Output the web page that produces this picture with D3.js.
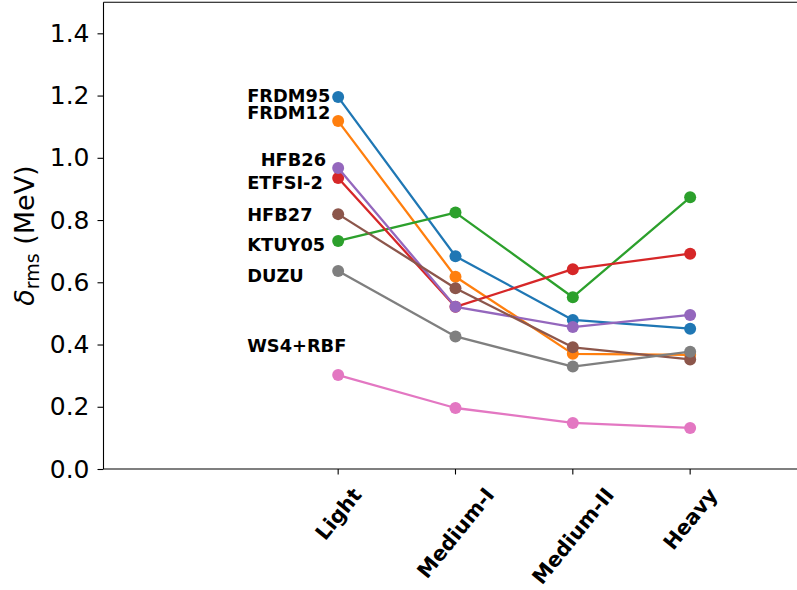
<!DOCTYPE html>
<html>
<head>
<meta charset="utf-8">
<script src="https://cdn.jsdelivr.net/npm/d3@7"></script>
<style>
  body { margin: 0; background: #fff; }
  svg { display: block; font-family: "DejaVu Sans", sans-serif; }
</style>
</head>
<body>
<div id="chart"></div>
<script>
// Data
const categories = ["Light", "Medium-I", "Medium-II", "Heavy"];
const models = ["FRDM95", "FRDM12", "KTUY05", "ETFSI-2", "HFB26", "HFB27", "WS4+RBF", "DUZU"];
const frdm95 = [1.195, 0.684, 0.479, 0.451];
const frdm12 = [1.118, 0.618, 0.370, 0.367];
const ktuy05 = [0.733, 0.824, 0.552, 0.873];
const etfsi2 = [0.935, 0.521, 0.642, 0.692];
const hfb26 = [0.967, 0.521, 0.456, 0.495];
const hfb27 = [0.819, 0.581, 0.391, 0.352];
const ws4rbf = [0.302, 0.196, 0.148, 0.132];
const duzu = [0.636, 0.426, 0.329, 0.377];
const seriesValues = [frdm95, frdm12, ktuy05, etfsi2, hfb26, hfb27, ws4rbf, duzu];
// annotation anchors (data units: category index, value)
const labelX = [-0.775, -0.775, -0.775, -0.775, -0.66, -0.775, -0.775, -0.775];
const labelY = [1.18, 1.124, 0.70, 0.90, 0.974, 0.798, 0.377, 0.602];
const yTicks = [0, 0.2, 0.4, 0.6, 0.8, 1.0, 1.2, 1.4];

const colors = ["#1f77b4", "#ff7f0e", "#2ca02c", "#d62728", "#9467bd", "#8c564b", "#e377c2", "#7f7f7f"];

const width = 797, height = 590;
const axLeft = 103.5, axBottom = 469, axTop = 2.2;
const step = 117.33;

const svg = d3.select("#chart").append("svg")
  .attr("width", width)
  .attr("height", height);

// Scales
const x = d3.scaleLinear().domain([-2, 5]).range([axLeft, axLeft + 7 * step]);
const y = d3.scaleLinear().domain([0, 1.5]).range([axBottom, axTop]);

// Lines + markers, in plotting order
const line = d3.line()
  .x((d, i) => x(i))
  .y(d => y(d));

seriesValues.forEach((vals, k) => {
  const g = svg.append("g");
  g.append("path")
    .datum(vals)
    .attr("d", line)
    .attr("fill", "none")
    .attr("stroke", colors[k])
    .attr("stroke-width", 2.3)
    .attr("stroke-linejoin", "round");
  g.selectAll("circle")
    .data(vals)
    .enter()
    .append("circle")
    .attr("cx", (d, i) => x(i))
    .attr("cy", d => y(d))
    .attr("r", 6)
    .attr("fill", colors[k]);
});

// Annotations
svg.selectAll(".label")
  .data(models)
  .enter()
  .append("text")
  .attr("class", "label")
  .attr("x", (d, i) => x(labelX[i]))
  .attr("y", (d, i) => y(labelY[i]))
  .text(d => d)
  .style("font-size", "17.8px")
  .style("font-weight", "bold")
  .style("fill", "#000");

// Spines
svg.append("line")
  .attr("x1", axLeft).attr("x2", axLeft)
  .attr("y1", axTop).attr("y2", axBottom)
  .attr("stroke", "#000").attr("stroke-width", 1.1);
svg.append("line")
  .attr("x1", axLeft).attr("x2", width + 5)
  .attr("y1", axTop).attr("y2", axTop)
  .attr("stroke", "#000").attr("stroke-width", 1.1);
svg.append("line")
  .attr("x1", axLeft).attr("x2", width + 5)
  .attr("y1", axBottom).attr("y2", axBottom)
  .attr("stroke", "#000").attr("stroke-width", 1.1);

// Y axis
const yAxis = d3.axisLeft(y)
  .tickValues(yTicks)
  .tickFormat(d3.format(".1f"))
  .tickSize(6)
  .tickPadding(8);
const yg = svg.append("g")
  .attr("transform", `translate(${axLeft},0)`)
  .call(yAxis);
yg.select(".domain").remove();
yg.selectAll(".tick line").attr("stroke", "#000").attr("stroke-width", 1.1);
yg.selectAll(".tick text")
  .style("font-family", "DejaVu Sans")
  .style("font-size", "25px")
  .attr("fill", "#000");

// X axis ticks
const xg = svg.append("g");
xg.selectAll("line")
  .data(categories)
  .enter()
  .append("line")
  .attr("x1", (d, i) => x(i)).attr("x2", (d, i) => x(i))
  .attr("y1", axBottom).attr("y2", axBottom + 5.5)
  .attr("stroke", "#000").attr("stroke-width", 1.1);

// Rotated category labels: ink box centred on tick, top at fixed y
const labelTop = 486;
const fs = 20.6;
const angle = 51;
const theta = angle * Math.PI / 180;
const hTop = 0.72 * fs;
xg.selectAll("text")
  .data(categories)
  .enter()
  .append("text")
  .text(d => d)
  .style("font-size", fs + "px")
  .style("font-weight", "bold")
  .attr("text-anchor", "end")
  .each(function(d, i) {
    const L = this.getComputedTextLength();
    const ax = x(i) + (L * Math.cos(theta) + hTop * Math.sin(theta)) / 2;
    const ay = labelTop + hTop * Math.cos(theta);
    d3.select(this)
      .attr("x", ax).attr("y", ay)
      .attr("transform", `rotate(${-angle},${ax},${ay})`);
  });

// Y label
const yl = svg.append("text")
  .attr("transform", `translate(34,${(axTop + axBottom) / 2}) rotate(-90)`)
  .attr("text-anchor", "middle")
  .style("font-size", "27px")
  .attr("fill", "#000");
yl.append("tspan").style("font-style", "italic").text("δ");
yl.append("tspan").style("font-size", "19px").attr("dy", 5).text("rms");
yl.append("tspan").attr("dy", -5).text(" (MeV)");
</script>
</body>
</html>
